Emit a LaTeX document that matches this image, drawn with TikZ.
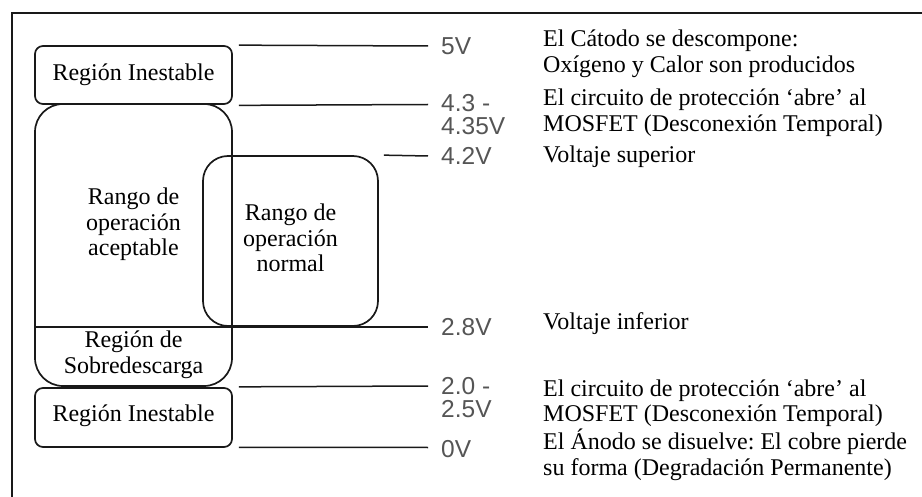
\documentclass[tikz,border=0pt]{standalone}
\usepackage{fontspec}
\setmainfont{Liberation Serif}
\newfontfamily\vsans{Liberation Sans}
\frenchspacing
\definecolor{ink}{RGB}{25,25,25}
\definecolor{vgray}{RGB}{85,85,85}
\newcommand\blkl[1]{\begin{tabular}[t]{@{}l@{}}#1\end{tabular}}
\newcommand\blkc[1]{\begin{tabular}[t]{@{}c@{}}#1\end{tabular}}
\tikzset{
  region/.style={draw=ink, line width=1.7pt, inner sep=0pt, rectangle},
  lvl/.style={draw=ink, line width=1.5pt},
  frameline/.style={draw=ink, line width=1.7pt},
  txt/.style={inner sep=0pt, font=\fontsize{24}{25.5}\selectfont\frenchspacing, text=black},
  vlab/.style={inner sep=0pt, anchor=base west, text=vgray, font=\vsans\fontsize{24.5}{19.5}\selectfont},
}
\begin{document}
\begin{tikzpicture}[x=1pt,y=-1pt]
\useasboundingbox (0,0) rectangle (922,497);
% frame
\coordinate (fbl) at (12,497);
\coordinate (ftl) at (12,13);
\coordinate (ftr) at (922,13);
\draw[frameline] (fbl) -- (ftl) -- (ftr);

% regions
\node[region, rounded corners=8pt, minimum width=197pt, minimum height=58pt] (ri1) at (133.5,75) {};
\node[region, rounded corners=28pt, minimum width=197pt, minimum height=282pt] (acc) at (133.5,245) {};
\node[region, rounded corners=25pt, minimum width=175pt, minimum height=170pt] (nor) at (290.5,241) {};
\node[region, rounded corners=8pt, minimum width=197pt, minimum height=59pt] (ri2) at (133.5,417.5) {};

% region texts
\node[txt, anchor=base] (tri1) at (133.5,81) {Región Inestable};
\node[txt, anchor=base] (tacc) at (133.5,205) {\blkc{Rango de\\operación\\aceptable}};
\node[txt, anchor=base] (tnor) at (290.5,221) {\blkc{Rango de\\operación\\normal}};
\node[txt, anchor=base] (tsob) at (133.5,348) {\blkc{Región de\\Sobredescarga}};
\node[txt, anchor=base] (tri2) at (133.5,421) {Región Inestable};

% level line ends
\coordinate (e5) at (428,46);
\coordinate (e43) at (428,104.5);
\coordinate (e42) at (428,156);
\coordinate (e28) at (428,327);
\coordinate (e20) at (428,386);
\coordinate (e0) at (428,447.5);

\draw[lvl] ([xshift=6pt]ri1.north east) -- (e5);
\draw[lvl] ([xshift=6pt,yshift=-0.5pt]ri1.south east) -- (e43);
\draw[lvl] ([xshift=5pt]nor.north east) -- (e42);
\draw[lvl] (acc.west |- e28) -- (e28);
\draw[lvl] ([xshift=6pt]acc.south east) -- (e20);
\draw[lvl] ([xshift=6pt,yshift=0.5pt]ri2.south east) -- (e0);

% voltage labels
\node[vlab] (v5) at (441,55) {5V};
\node[vlab] (v43) at (441,112) {\blkl{4.3 -\\4.35V}};
\node[vlab] (v42) at (441,165) {4.2V};
\node[vlab] (v28) at (441,336) {2.8V};
\node[vlab] (v20) at (441,395) {\blkl{2.0 -\\2.5V}};
\node[vlab] (v0) at (441,457) {0V};

% descriptions
\node[txt, anchor=base west] (d1) at (543,47) {\blkl{El Cátodo se descompone:\\Oxígeno y Calor son producidos}};
\node[txt, anchor=base west] (d2) at (543,106) {\blkl{El circuito de protección ‘abre’ al\\MOSFET (Desconexión Temporal)}};
\node[txt, anchor=base west] (d3) at (543,163) {Voltaje superior};
\node[txt, anchor=base west] (d4) at (543,330) {Voltaje inferior};
\node[txt, anchor=base west] (d5) at (543,396) {\blkl{El circuito de protección ‘abre’ al\\MOSFET (Desconexión Temporal)\\El Ánodo se disuelve: El cobre pierde\\su forma (Degradación Permanente)}};
\end{tikzpicture}
\end{document}
